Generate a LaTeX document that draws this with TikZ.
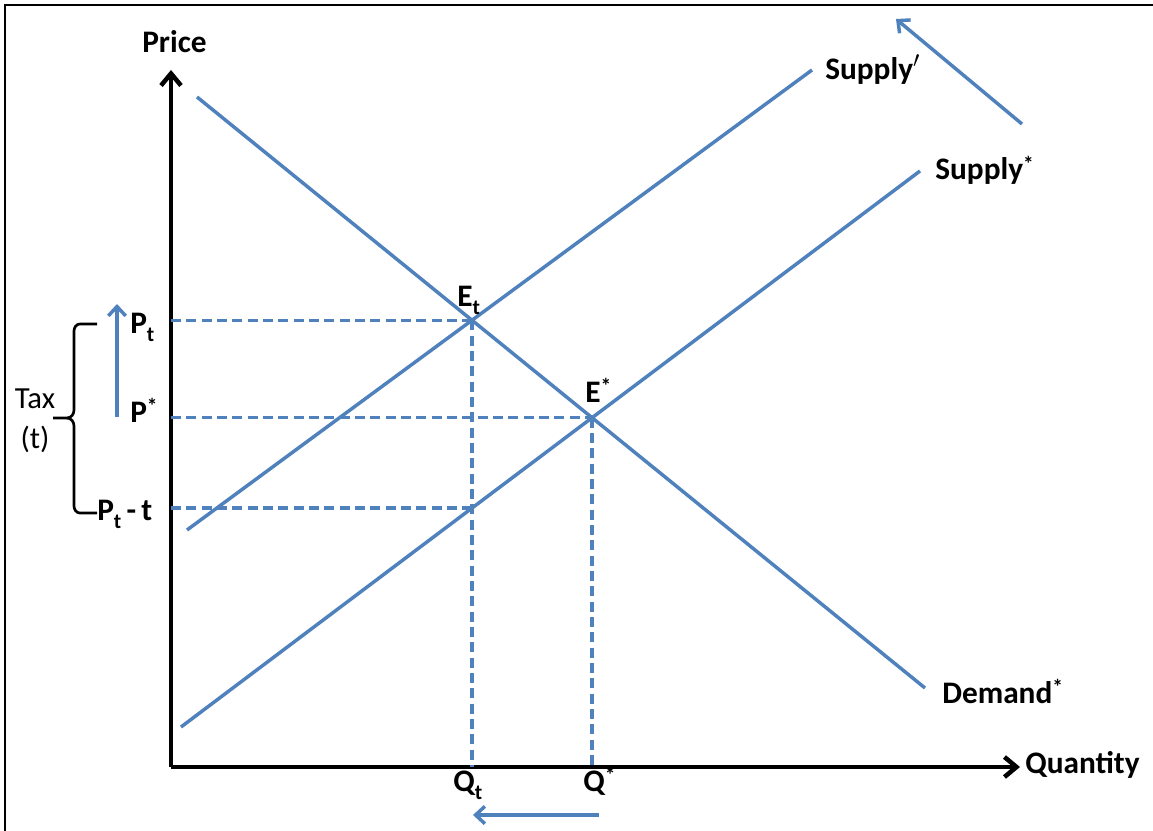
\documentclass[tikz,border=0pt]{standalone}
\usepackage{fontspec}
\setmainfont{Carlito}
\usetikzlibrary{arrows.meta}
\definecolor{curveblue}{HTML}{4F81BD}
\newcommand{\mysub}[1]{\raisebox{-0.28em}{\fontsize{16}{16}\selectfont #1}}
\newcommand{\mysup}[1]{\raisebox{0.28em}{\fontsize{16}{16}\selectfont #1}}
\begin{document}
\begin{tikzpicture}[x=0.75pt,y=-0.75pt,
  frame/.style={draw=black,line width=1.6pt},
  axis/.style={draw=black,line width=3.4pt,-{Straight Barb[length=9pt,width=15pt]}},
  curve/.style={draw=curveblue,line width=2.6pt},
  guide/.style={draw=curveblue,line width=2.6pt,dash pattern=on 7.5pt off 4pt},
  movearrow/.style={draw=curveblue,line width=2.6pt,-{Straight Barb[length=7pt,width=13pt]}},
  brace/.style={draw=black,line width=2pt},
  lbl/.style={inner sep=0pt,font=\fontsize{23.5}{28}\selectfont\bfseries},
  taxlbl/.style={inner sep=0pt,align=center,font=\fontsize{23}{30}\selectfont}]
\useasboundingbox (0,0) rectangle (1153,831);
\draw[frame] (5,831) -- (5,5) -- (1153,5);

% axes
\coordinate (O) at (171,767);
\coordinate (Ytip) at (171,70);
\coordinate (Xtip) at (1020,767);
\draw[axis] (O) -- (Ytip);
\draw[axis] (O) -- (Xtip);

% curves
\coordinate (D1) at (197,97);   \coordinate (D2) at (925,688);
\coordinate (S1a) at (187,530); \coordinate (S1b) at (812,70);
\coordinate (S2a) at (181,727); \coordinate (S2b) at (920,171);
\draw[curve] (D1) -- (D2);
\draw[curve] (S1a) -- (S1b);
\draw[curve] (S2a) -- (S2b);

\coordinate (Et) at (intersection of D1--D2 and S1a--S1b);
\coordinate (Es) at (intersection of D1--D2 and S2a--S2b);
\coordinate (Qt) at (Et |- O);
\coordinate (Qs) at (Es |- O);
\coordinate (Ptt) at (intersection of Et--Qt and S2a--S2b);

% guides
\draw[guide] (O |- Et) -- (Et);
\draw[guide] (O |- Es) -- (Es);
\draw[guide] (O |- Ptt) -- (Ptt);
\draw[guide] (Et) -- (Qt);
\draw[guide] (Es) -- (Qs);

% shift arrows
\coordinate (PA1) at (117,417); \coordinate (PA2) at (117,304);
\draw[movearrow] (PA1) -- (PA2);
\coordinate (QA1) at (599,815); \coordinate (QA2) at (473,815);
\draw[movearrow] (QA1) -- (QA2);
\coordinate (SA1) at (1022,124); \coordinate (SA2) at (896,19);
\draw[movearrow] (SA1) -- (SA2);

% brace
\draw[brace] (97,324) -- (80,324) to[out=180,in=90] (74,331) -- (74,410)
  to[out=-90,in=0] (67,418) -- (53,418);
\draw[brace] (67,418) to[out=0,in=90] (74,426) -- (74,506)
  to[out=-90,in=180] (80,513) -- (97,513);

% labels
\node[lbl,anchor=base west] (price) at (142,53) {Price};
\node[lbl,anchor=base west] (qty) at (1025,773) {Quantity};
\node[lbl,anchor=base west] (supp1) at (825,80) {Supply$'$};
\node[lbl,anchor=base west] (supp2) at (935,180) {Supply\mysup{*}};
\node[lbl,anchor=base west] (dem) at (942,703) {Demand\mysup{*}};
\node[lbl,anchor=base west] (etl) at (457,306) {E\mysub{t}};
\node[lbl,anchor=base west] (esl) at (585,402) {E\mysup{*}};
\node[lbl,anchor=base west] (qtl) at (453,791) {Q\mysub{t}};
\node[lbl,anchor=base west] (qsl) at (583,791) {Q\mysup{*}};
\node[lbl,anchor=base west] (ptl) at (130,333) {P\mysub{t}};
\node[lbl,anchor=base west] (psl) at (130,422) {P\mysup{*}};
\node[lbl,anchor=base west] (pttl) at (97,520) {P\mysub{t}\,-\,t};
\node[taxlbl] (tax) at (35,421) {Tax\\(t)};
\end{tikzpicture}
\end{document}
